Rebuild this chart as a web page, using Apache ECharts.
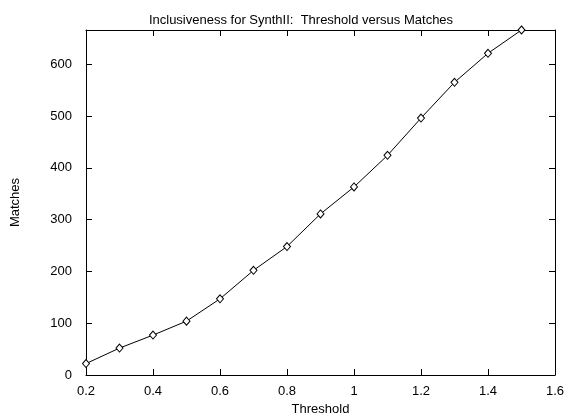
<!DOCTYPE html>
<html>
<head>
<meta charset="utf-8">
<script src="https://cdn.jsdelivr.net/npm/echarts@6/dist/echarts.min.js"></script>
<style>
  html, body { margin: 0; padding: 0; background: #fff; }
  #chart { width: 565px; height: 417px; }
</style>
</head>
<body>
<div id="chart"></div>
<script>
// threshold values (x) and match counts (y)
const thresholds = [0.2, 0.3, 0.4, 0.5, 0.6, 0.7, 0.8, 0.9, 1.0, 1.1, 1.2, 1.3, 1.4, 1.5];
const matches = [22, 52, 77, 104, 147, 202, 248, 311, 363, 424, 496, 565, 621, 666];

const font = 'Liberation Sans, Arial, Helvetica, sans-serif';

const chart = echarts.init(document.getElementById('chart'));

const frameLine = { show: true, onZero: false, lineStyle: { color: '#000', width: 1 } };
const inTick = { show: true, inside: true, length: 6, lineStyle: { color: '#000', width: 1 } };

chart.setOption({
  animation: false,
  title: {
    text: 'Inclusiveness for SynthII:  Threshold versus Matches',
    left: 296,
    top: 9,
    textAlign: 'center',
    textStyle: { fontFamily: font, fontSize: 13, fontWeight: 'normal', color: '#000' },
  },
  grid: { left: 86, right: 10, top: 30, bottom: 42, outerBoundsMode: 'none' },
  xAxis: [
    {
      type: 'value',
      min: 0.2,
      max: 1.6,
      interval: 0.2,
      name: 'Threshold',
      nameLocation: 'middle',
      nameGap: 23,
      nameTextStyle: { fontFamily: font, fontSize: 13, color: '#000' },
      axisLine: frameLine,
      axisTick: inTick,
      splitLine: { show: false },
      axisLabel: { fontFamily: font, fontSize: 13, color: '#000', margin: 10 },
    },
    {
      type: 'value',
      position: 'top',
      min: 0.2,
      max: 1.6,
      interval: 0.2,
      axisLine: frameLine,
      axisTick: inTick,
      splitLine: { show: false },
      axisLabel: { show: false },
    },
  ],
  yAxis: [
    {
      type: 'value',
      min: 0,
      max: 666,
      interval: 100,
      name: 'Matches',
      nameLocation: 'middle',
      nameGap: 64,
      nameTextStyle: { fontFamily: font, fontSize: 13, color: '#000' },
      axisLine: frameLine,
      axisTick: inTick,
      splitLine: { show: false },
      axisLabel: { fontFamily: font, fontSize: 13, color: '#000', margin: 14, showMaxLabel: false },
    },
    {
      type: 'value',
      position: 'right',
      min: 0,
      max: 666,
      interval: 100,
      axisLine: frameLine,
      axisTick: inTick,
      splitLine: { show: false },
      axisLabel: { show: false },
    },
  ],
  series: [
    {
      type: 'line',
      xAxisIndex: 0,
      yAxisIndex: 0,
      data: thresholds.map((t, i) => [t, matches[i]]),
      symbol: 'diamond',
      symbolSize: [7, 8],
      showAllSymbol: true,
      lineStyle: { color: '#000', width: 1 },
      itemStyle: { color: '#fff', borderColor: '#000', borderWidth: 1 },
    },
  ],
});
</script>
</body>
</html>
